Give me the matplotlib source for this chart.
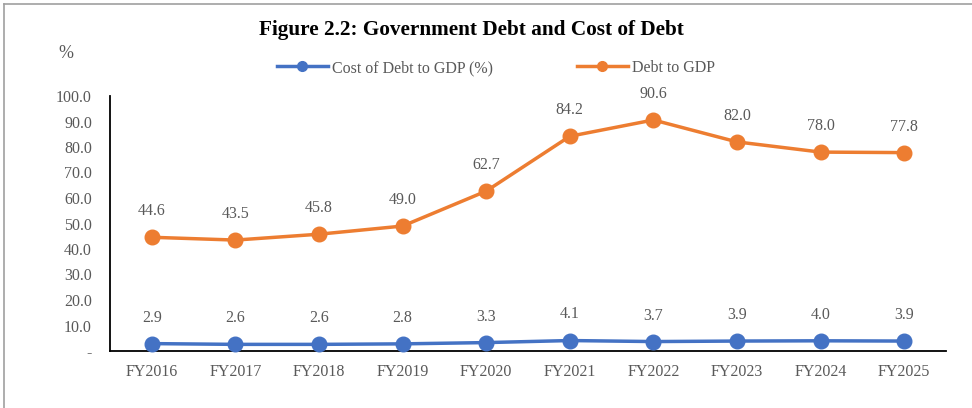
import matplotlib
matplotlib.use("Agg")
import matplotlib.pyplot as plt
from matplotlib.lines import Line2D

years = ["FY2016", "FY2017", "FY2018", "FY2019", "FY2020",
         "FY2021", "FY2022", "FY2023", "FY2024", "FY2025"]
cost_of_debt = [2.9, 2.6, 2.6, 2.8, 3.3, 4.1, 3.7, 3.9, 4.0, 3.9]
debt_to_gdp = [44.6, 43.5, 45.8, 49.0, 62.7, 84.2, 90.6, 82.0, 78.0, 77.8]
yticks = [0, 10, 20, 30, 40, 50, 60, 70, 80, 90, 100]
ytick_labels = ["-", "10.0", "20.0", "30.0", "40.0", "50.0", "60.0", "70.0", "80.0", "90.0", "100.0"]

plt.rcParams['font.family'] = ['Liberation Serif', 'DejaVu Serif']
blue = "#4472C4"
orange = "#ED7D31"
gray = "#595959"

W, H = 972, 408
fig = plt.figure(figsize=(W / 100, H / 100), dpi=100)
ax = fig.add_axes([110 / W, 1 - 351 / H, (946 - 110) / W, (351 - 96) / H])

x = list(range(len(years)))
ax.plot(x, cost_of_debt, color=blue, lw=2.5, marker='o', ms=10.5, zorder=3, clip_on=False)
ax.plot(x, debt_to_gdp, color=orange, lw=2.5, marker='o', ms=10.5, zorder=3, clip_on=False)

for xi, v in zip(x, cost_of_debt):
    ax.annotate(f"{v:.1f}", (xi, v), xytext=(0, 13), textcoords='offset points',
                ha='center', va='bottom', fontsize=11.5, color=gray)
for xi, v in zip(x, debt_to_gdp):
    ax.annotate(f"{v:.1f}", (xi, v), xytext=(0, 13), textcoords='offset points',
                ha='center', va='bottom', fontsize=11.5, color=gray)

ax.set_xlim(-0.5, len(years) - 0.5)
ax.set_ylim(0, 100)
ax.set_yticks(yticks)
ax.set_yticklabels(ytick_labels)
ax.set_xticks(x)
ax.set_xticklabels(years)
ax.tick_params(axis='both', length=0, labelsize=11.5, labelcolor=gray)
ax.tick_params(axis='y', pad=13)
ax.tick_params(axis='x', pad=9)
for s in ['top', 'right']:
    ax.spines[s].set_visible(False)
for s in ['left', 'bottom']:
    ax.spines[s].set_color('black')
    ax.spines[s].set_linewidth(1.3)

fig.text(471 / W, 1 - 30 / H, "Figure 2.2: Government Debt and Cost of Debt",
         ha='center', va='center', fontsize=15.3, fontweight='bold', color='black')
fig.text(66 / W, 1 - 53 / H, "%", ha='center', va='center', fontsize=13, color=gray)

handles = [Line2D([], [], color=blue, lw=2.5, marker='o', ms=7),
           Line2D([], [], color=orange, lw=2.5, marker='o', ms=7)]
fig.legend(handles, ["Cost of Debt to GDP (%)", "Debt to GDP"],
           loc='center', bbox_to_anchor=(496 / W, 1 - 68 / H), ncol=2,
           frameon=False, fontsize=11.5, labelcolor=gray, handlelength=3.2,
           handletextpad=0.3, columnspacing=5.2)

# outer frame (top and left edges visible)
fig.add_artist(Line2D([4 / W, 4 / W], [0, 1 - 4 / H], transform=fig.transFigure, color='#A0A0A0', lw=1.2))
fig.add_artist(Line2D([4 / W, 1], [1 - 4 / H, 1 - 4 / H], transform=fig.transFigure, color='#A0A0A0', lw=1.2))

fig.savefig("out.png", dpi=100)
